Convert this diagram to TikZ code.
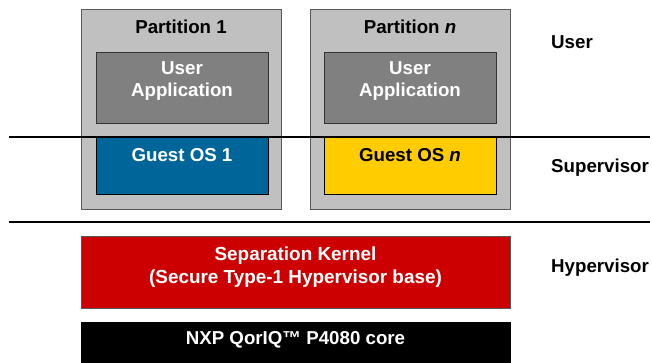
\documentclass[tikz,border=0pt]{standalone}
\usepackage{fontspec}
\setmainfont{Liberation Sans}
\usepackage{xcolor}
\usepackage{tikz}
\definecolor{partgray}{RGB}{192,192,192}
\definecolor{appgray}{RGB}{128,128,128}
\definecolor{osblue}{RGB}{0,102,153}
\definecolor{osyellow}{RGB}{255,204,0}
\definecolor{kernred}{RGB}{204,0,0}
\newcommand{\txt}{\fontsize{18.7}{22}\selectfont\bfseries}

\begin{document}
\begin{tikzpicture}[x=1pt,y=-1pt]
\useasboundingbox (0,0) rectangle (652,362);
\begin{scope}[every node/.style={rectangle,draw=black!65,line width=0.8pt,inner sep=0pt}]
    \node[fill=partgray,minimum width=200pt,minimum height=200pt] (P1) at (181,109) {};
    \node[fill=partgray,minimum width=200pt,minimum height=200pt] (Pn) at (410,109) {};
    \node[fill=appgray,draw=black!80,minimum width=172pt,minimum height=71pt] (A1) at (182,87.5) {};
    \node[fill=appgray,draw=black!80,minimum width=172pt,minimum height=71pt] (An) at (410,87.5) {};
    \node[fill=osblue,draw=black,minimum width=172pt,minimum height=57pt] (O1) at (182,165.5) {};
    \node[fill=osyellow,draw=black,minimum width=172pt,minimum height=57pt] (On) at (410,165.5) {};
    \node[fill=kernred,minimum width=429pt,minimum height=72pt] (K) at (295.5,272) {};
    \node[fill=black,draw=black,minimum width=429pt,minimum height=44pt] (HW) at (295.5,344) {};
\end{scope}
\begin{scope}[every node/.style={align=center,inner sep=0pt,font=\txt}]
    \node (P1t) at (181,27) {Partition 1};
    \node (Pnt) at (410,27) {Partition \textit{n}};
    \node[white] (A1t) at (182,81) {User\\Application};
    \node[white] (Ant) at (410,81) {User\\Application};
    \node[white] (O1t) at (182,155) {Guest OS 1};
    \node (Ont) at (410,155) {Guest OS \textit{n}};
    \node[white,font=\fontsize{18.9}{23}\selectfont\bfseries] (Kt) at (295.5,267.5) {Separation Kernel\\(Secure Type-1 Hypervisor base)};
    \node[white] (HWt) at (295.5,340) {NXP QorIQ™ P4080 core};
\end{scope}
\begin{scope}[every node/.style={anchor=west,inner sep=0pt,font=\txt}]
    \node (user) at (551,42) {User};
    \node (super) at (551,168) {Supervisor};
    \node (hyper) at (551,268) {Hypervisor};
\end{scope}
\begin{scope}[line width=2pt]
    \coordinate (l1a) at (9,137);
    \coordinate (l1b) at (650,137);
    \coordinate (l2a) at (9,222);
    \coordinate (l2b) at (650,222);
    \draw (l1a) -- (l1b);
    \draw (l2a) -- (l2b);
\end{scope}
\end{tikzpicture}
\end{document}
